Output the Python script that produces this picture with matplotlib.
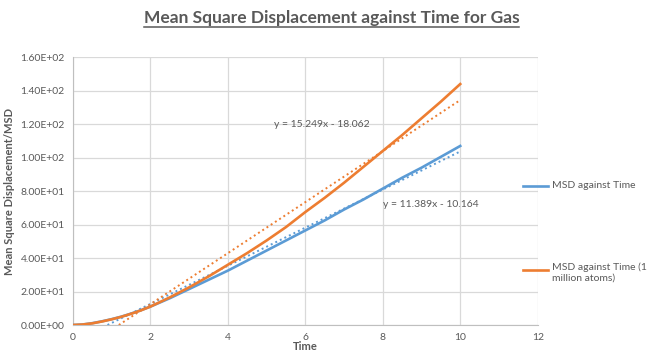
import numpy as np
import matplotlib
matplotlib.use("Agg")
import matplotlib.pyplot as plt
from matplotlib.lines import Line2D

plt.rcParams['font.family'] = ['Lato', 'DejaVu Sans']

# data
time = [0, 0.25, 0.5, 0.75, 1, 1.25, 1.5, 1.75, 2, 2.5, 3, 3.5, 4, 4.5, 5, 5.5, 6,
        6.5, 7, 7.5, 8, 8.5, 9, 9.5, 10]
msd_gas = [0, 0.3, 1.1, 2.2, 3.5, 5, 6.8, 8.8, 11, 16, 21.5, 27, 32.5, 38.5, 44.5,
           50.5, 56.5, 62.5, 69, 75, 81.5, 88, 94, 100.5, 107]
msd_million = [0, 0.3, 1.0, 2.1, 3.4, 4.9, 6.7, 8.7, 11, 16.5, 22.5, 29, 36, 43, 50.5,
               58.5, 67.5, 76, 85, 94.5, 104, 113.5, 123.5, 133.5, 144]

# trendline coefficients as printed on the chart
fit_gas = (11.389, -10.164)
fit_million = (15.249, -18.062)

blue = '#5B9BD5'
orange = '#ED7D31'
grey_txt = '#595959'

fig = plt.figure(figsize=(6.63, 3.57), dpi=100)
ax = fig.add_axes([0.110, 0.0896, 0.701, 0.750])

ax.plot(time, msd_gas, color=blue, lw=1.9, zorder=3)
ax.plot(time, msd_million, color=orange, lw=1.9, zorder=3)

# linear trendlines over the data range (clipped at zero like Excel)
for (m, c), col in [(fit_gas, blue), (fit_million, orange)]:
    x0 = max(time[0], -c / m)
    xs = np.array([x0, time[-1]])
    ax.plot(xs, m * xs + c, color=col, lw=1.4, ls=(0, (1, 1.6)), zorder=2)

ax.set_xlim(0, 12)
ax.set_ylim(0, 160)
ax.set_xticks(range(0, 13, 2))
ax.set_yticks(range(0, 161, 20))
ax.yaxis.set_major_formatter(matplotlib.ticker.FuncFormatter(lambda v, p: f"{v:.2E}"))
ax.tick_params(length=0, labelsize=7.5, labelcolor=grey_txt, pad=6)
ax.grid(True, color='#d9d9d9', lw=0.9)
ax.set_axisbelow(True)
for s in ['top', 'right']:
    ax.spines[s].set_visible(False)
for s in ['left', 'bottom']:
    ax.spines[s].set_color('#bfbfbf')

ax.set_xlabel('Time', fontsize=8, fontweight='bold', color=grey_txt, labelpad=-1)
ax.set_ylabel('Mean Square Displacement/MSD', fontsize=8, fontweight='bold', color=grey_txt, labelpad=4)

ax.text(5.2, 120, 'y = 15.249x - 18.062', fontsize=7.5, color=grey_txt, va='center')
ax.text(8.0, 72, 'y = 11.389x - 10.164', fontsize=7.5, color=grey_txt, va='center')

# title with underline
t = fig.text(0.5, 0.95, 'Mean Square Displacement against Time for Gas', ha='center', va='center',
             fontsize=12.5, fontweight='bold', color=grey_txt)
fig.canvas.draw()
bb = t.get_window_extent().transformed(fig.transFigure.inverted())
fig.add_artist(Line2D([bb.x0, bb.x1], [bb.y0 - 0.004, bb.y0 - 0.004], color=grey_txt, lw=1.1))

# legend on the right
fig.add_artist(Line2D([523 / 663, 548 / 663], [1 - 186 / 357] * 2, color=blue, lw=1.9))
fig.text(552 / 663, 1 - 186 / 357, 'MSD against Time', fontsize=7.5, color=grey_txt, va='center')
fig.add_artist(Line2D([523 / 663, 548 / 663], [1 - 270 / 357] * 2, color=orange, lw=1.9))
fig.text(552 / 663, 1 - 270 / 357 + 0.022, 'MSD against Time (1\nmillion atoms)', fontsize=7.5,
         color=grey_txt, va='top', linespacing=1.25)

fig.savefig('out.png', dpi=100)
